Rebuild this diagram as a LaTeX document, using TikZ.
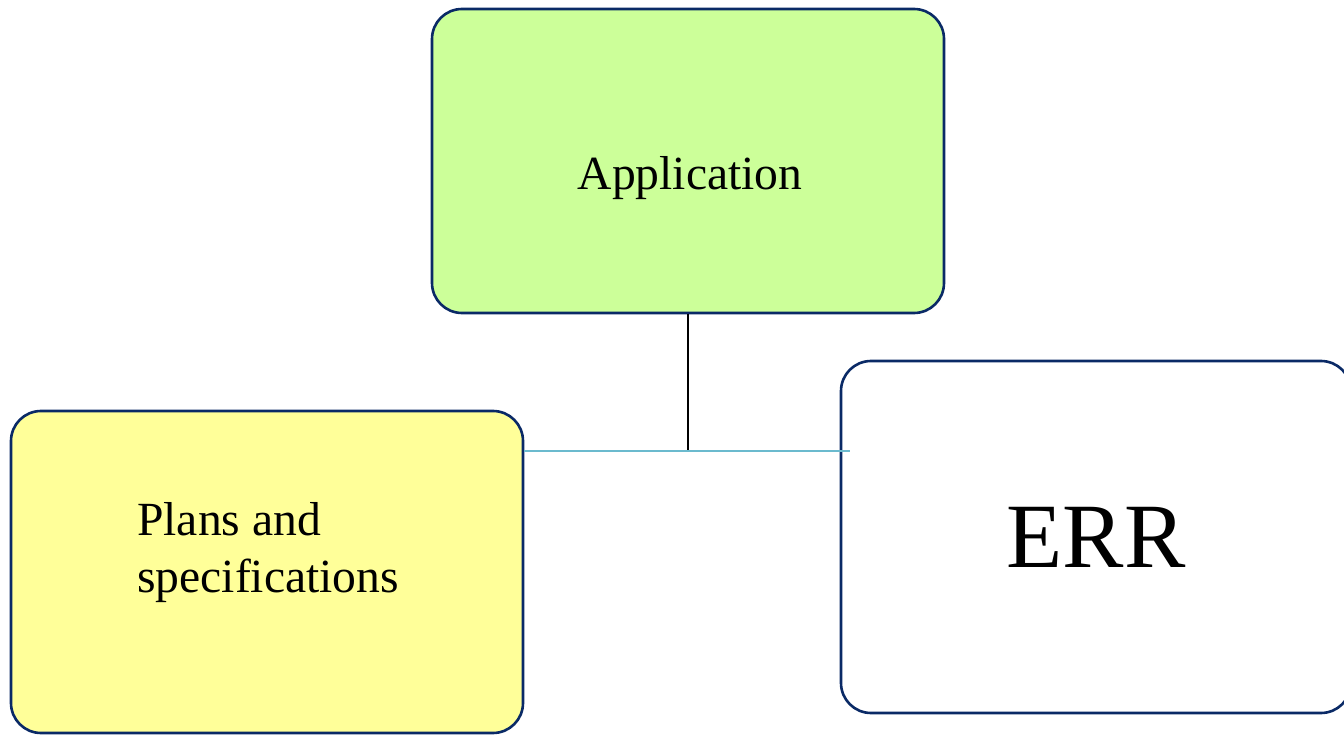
\documentclass[tikz,border=0pt]{standalone}
\usepackage{fontspec}
\setmainfont{Liberation Serif}
\definecolor{boxline}{HTML}{0A2A66}
\definecolor{appfill}{HTML}{CCFF99}
\definecolor{planfill}{HTML}{FFFF99}
\definecolor{joinline}{HTML}{6BBACE}
\begin{document}
\begin{tikzpicture}[x=1pt,y=-1pt,
  box/.style={draw=boxline,line width=2.6pt,rounded corners=30pt,inner sep=0pt},
  lbl/.style={inner sep=0pt,font=\fontsize{47.6}{57}\selectfont}]
\useasboundingbox (0,0) rectangle (1344,735);
\node[box,fill=appfill,minimum width=512pt,minimum height=304pt] (app) at (688,161) {};
\node[box,fill=planfill,minimum width=512pt,minimum height=322pt] (plans) at (267,572) {};
\node[box,fill=white,minimum width=510pt,minimum height=352pt] (err) at (1096,537) {};
\node[lbl,anchor=base] (apptext) at (690,190) {Application};
\node[lbl,anchor=base west,align=left] (planstext) at (137,592) {Plans and\\specifications};
\node[inner sep=0pt,anchor=base,font=\fontsize{92}{110}\selectfont] (errtext) at (1096,567) {ERR};
\coordinate (j) at (app.south |- 0,451);
\coordinate (jr) at (850,451);
\draw[black,line width=1.5pt] (app.south) -- (j);
\draw[joinline,line width=2pt] (plans.east |- j) -- (jr);
\end{tikzpicture}
\end{document}
